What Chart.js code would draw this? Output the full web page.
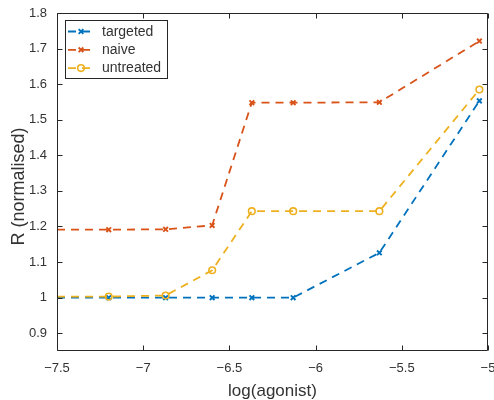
<!DOCTYPE html>
<html>
<head>
<meta charset="utf-8">
<title>R vs log(agonist)</title>
<script src="https://cdn.jsdelivr.net/npm/chart.js@4.4.0/dist/chart.umd.min.js"></script>
<style>
  html, body { margin: 0; padding: 0; background: #ffffff; }
  #wrap { width: 494px; height: 400px; }
</style>
</head>
<body>
<div id="wrap"><canvas id="chart" width="494" height="400"></canvas></div>
<script>
// Concentrations (log scale); the first entry starts each trace at the left axis
const logAgonist = [-7.5, -7.2, -6.87, -6.6, -6.37, -6.13, -5.63, -5.05];

// Normalised response per group
const targeted  = [1.000, 1.000, 1.000, 1.000, 1.000, 1.000, 1.126, 1.553];
const naive     = [1.191, 1.191, 1.192, 1.203, 1.548, 1.548, 1.549, 1.721];
const untreated = [1.003, 1.003, 1.006, 1.077, 1.243, 1.243, 1.243, 1.585];

const seriesNames  = ['targeted', 'naive', 'untreated'];
const seriesColors = ['#0072BD', '#D95319', '#EDB120'];
const seriesMarkers = ['crossRot', 'crossRot', 'circle'];

// Axis ticks
const xTicks = [-7.5, -7, -6.5, -6, -5.5, -5];
const xTickLabels = ['\u22127.5', '\u22127', '\u22126.5', '\u22126', '\u22125.5', '\u22125'];
const yTicks = [0.9, 1.0, 1.1, 1.2, 1.3, 1.4, 1.5, 1.6, 1.7, 1.8];
const yTickLabels = ['0.9', '1', '1.1', '1.2', '1.3', '1.4', '1.5', '1.6', '1.7', '1.8'];

const yTitle = 'R (normalised)';
const xTitle = 'log(agonist)';

const FONT = '"Liberation Sans", Arial, Helvetica, sans-serif';
const INK = '#262626';
const TEXT = '#333333';
const DASH = [8, 6];

function series(values) {
  return logAgonist.map((x, i) => ({ x: x, y: values[i] }));
}

function makeDataset(idx, values) {
  const marker = seriesMarkers[idx];
  return {
    label: seriesNames[idx],
    data: series(values),
    borderColor: seriesColors[idx],
    backgroundColor: 'rgba(0,0,0,0)',
    borderWidth: 1.8,
    borderDash: DASH,
    borderCapStyle: 'butt',
    tension: 0,
    fill: false,
    pointStyle: marker,
    pointRadius: ctx => (ctx.dataIndex === 0 ? 0 : 3.3),
    pointBorderWidth: marker === 'circle' ? 1.6 : 1.9,
    pointBorderColor: seriesColors[idx],
    pointBackgroundColor: 'rgba(0,0,0,0)',
    pointHoverRadius: 0,
    order: 2 - idx
  };
}

// Box around the plot with inward ticks on all four sides
const framePlugin = {
  id: 'frame',
  afterDatasetsDraw(chart) {
    const { ctx, chartArea: a, scales } = chart;
    const L = a.left + 0.5, R = a.right - 0.5, T = a.top + 0.5, B = a.bottom - 0.5;
    const tl = 5;
    ctx.save();
    ctx.strokeStyle = INK;
    ctx.lineWidth = 1;
    ctx.setLineDash([]);
    ctx.beginPath();
    ctx.rect(L, T, R - L, B - T);
    xTicks.forEach(v => {
      const px = Math.round(scales.x.getPixelForValue(v)) + 0.5;
      ctx.moveTo(px, B); ctx.lineTo(px, B - tl);
      ctx.moveTo(px, T); ctx.lineTo(px, T + tl);
    });
    yTicks.forEach(v => {
      const py = Math.round(scales.y.getPixelForValue(v)) + 0.5;
      ctx.moveTo(L, py); ctx.lineTo(L + tl, py);
      ctx.moveTo(R, py); ctx.lineTo(R - tl, py);
    });
    ctx.stroke();
    ctx.restore();

    // vertical axis title, rotated, beside the tick labels
    ctx.save();
    ctx.translate(19.5, (a.top + a.bottom) / 2 + 4.5);
    ctx.rotate(-Math.PI / 2);
    ctx.fillStyle = TEXT;
    ctx.font = '18px ' + FONT;
    ctx.textAlign = 'center';
    ctx.textBaseline = 'middle';
    ctx.fillText(yTitle, 0, 0);
    ctx.restore();
  }
};

function drawMarker(ctx, style, x, y, r, color, width) {
  ctx.save();
  ctx.setLineDash([]);
  ctx.strokeStyle = color;
  ctx.lineWidth = width;
  ctx.beginPath();
  if (style === 'circle') {
    ctx.arc(x, y, r, 0, Math.PI * 2);
  } else {
    const d = Math.cos(Math.PI / 4) * r;
    ctx.moveTo(x - d, y - d); ctx.lineTo(x + d, y + d);
    ctx.moveTo(x - d, y + d); ctx.lineTo(x + d, y - d);
  }
  ctx.stroke();
  ctx.restore();
}

// Legend boxed inside the upper-left corner of the plot
const legendPlugin = {
  id: 'innerLegend',
  afterDraw(chart) {
    const { ctx } = chart;
    const box = { x: 65.5, y: 20.5, w: 102, h: 58 };
    ctx.save();
    ctx.fillStyle = '#ffffff';
    ctx.fillRect(box.x, box.y, box.w, box.h);
    ctx.strokeStyle = INK;
    ctx.lineWidth = 1;
    ctx.strokeRect(box.x, box.y, box.w, box.h);
    chart.data.datasets.forEach((ds, i) => {
      const y = 31.5 + i * 18.3;
      ctx.save();
      ctx.strokeStyle = ds.borderColor;
      ctx.lineWidth = ds.borderWidth;
      ctx.setLineDash(DASH);
      ctx.beginPath();
      ctx.moveTo(68, y); ctx.lineTo(94, y);
      ctx.stroke();
      ctx.restore();
      drawMarker(ctx, seriesMarkers[i], 81, y, 3.3, ds.borderColor, ds.pointBorderWidth);
      ctx.fillStyle = TEXT;
      ctx.font = '14px ' + FONT;
      ctx.textAlign = 'left';
      ctx.textBaseline = 'middle';
      ctx.fillText(ds.label, 102, y + 0.5);
    });
    ctx.restore();
  }
};

new Chart(document.getElementById('chart'), {
  type: 'line',
  data: {
    datasets: [
      makeDataset(0, targeted),
      makeDataset(1, naive),
      makeDataset(2, untreated)
    ]
  },
  options: {
    responsive: false,
    animation: false,
    devicePixelRatio: 1,
    layout: { padding: { top: 13, right: 6, left: 0, bottom: 0 } },
    plugins: {
      legend: { display: false },
      tooltip: { enabled: false }
    },
    scales: {
      x: {
        type: 'linear',
        min: -7.5,
        max: -5,
        grid: { display: false, drawTicks: false },
        border: { display: false },
        afterBuildTicks: s => { s.ticks = xTicks.map(v => ({ value: v })); },
        afterFit: s => { s.height = 49; s.paddingLeft = 0; s.paddingRight = 0; },
        ticks: {
          autoSkip: false,
          maxRotation: 0,
          padding: 10,
          color: TEXT,
          font: { family: FONT, size: 13 },
          callback: (v, i) => xTickLabels[i]
        },
        title: {
          display: true,
          text: xTitle,
          color: TEXT,
          font: { family: FONT, size: 17, lineHeight: 1 },
          padding: { top: 0, bottom: 0 }
        }
      },
      y: {
        type: 'linear',
        min: 0.85,
        max: 1.8,
        grid: { display: false, drawTicks: false },
        border: { display: false },
        afterBuildTicks: s => { s.ticks = yTicks.map(v => ({ value: v })); },
        afterFit: s => { s.width = 57; s.paddingTop = 0; s.paddingBottom = 0; },
        ticks: {
          autoSkip: false,
          padding: 10,
          color: TEXT,
          font: { family: FONT, size: 13 },
          callback: (v, i) => yTickLabels[i]
        }
      }
    }
  },
  plugins: [framePlugin, legendPlugin]
});
</script>
</body>
</html>
